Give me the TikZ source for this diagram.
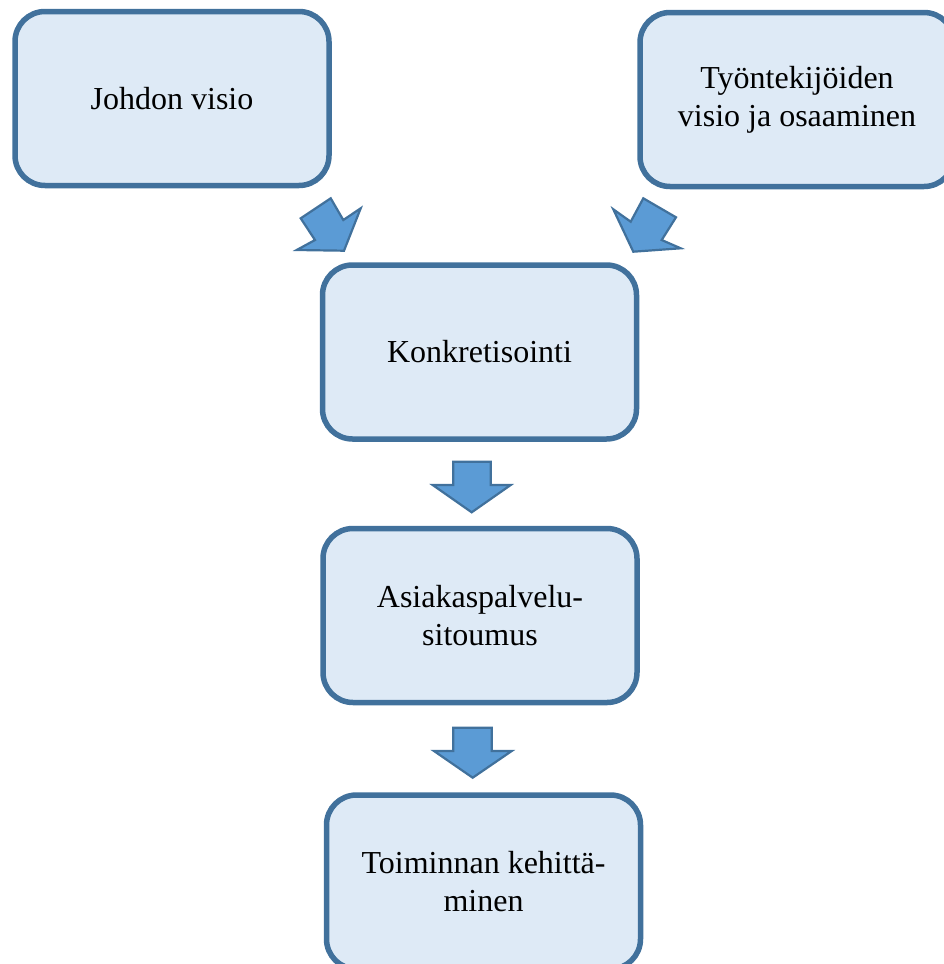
\documentclass[tikz,border=0pt]{standalone}
\usepackage{fontspec}
\setmainfont{Liberation Serif}
\definecolor{boxfill}{HTML}{DEEAF6}
\definecolor{boxline}{HTML}{41719C}
\definecolor{arrowfill}{HTML}{5B9BD5}
\begin{document}
\begin{tikzpicture}[x=1pt,y=-1pt,
  box/.style={draw=boxline, fill=boxfill, line width=5.5pt, rounded corners=30pt,
    minimum width=314pt, minimum height=174pt, inner sep=0pt, align=center,
    font=\fontsize{32}{38}\selectfont},
  blockarrow/.style={draw=boxline, fill=arrowfill, line width=2.2pt, line join=miter}]
\useasboundingbox (0,0) rectangle (944,964);
\begin{scope}
\clip (0,0) rectangle (944,964);
\node[box] (b1) at (172,98.5) {Johdon visio};
\node[box] (b2) at (797,99.5) {Työntekijöiden\\visio ja osaaminen};
\node[box] (b3) at (479.5,352) {Konkretisointi};
\node[box] (b4) at (480,615.5) {Asiakaspalvelu-\\sitoumus};
\node[box] (b5) at (483.5,882) {Toiminnan kehittä-\\minen};
% diagonal arrows
\draw[blockarrow] (330.7,198.3) -- (343.3,220) -- (360.7,208.3) -- (344,250.7)
  -- (296.7,250) -- (315,240) -- (300.7,218.3) -- cycle;
\draw[blockarrow] (643.3,198.3) -- (630.7,221.7) -- (613.3,209.3) -- (633.3,251.7)
  -- (680.7,248.3) -- (661.7,240) -- (676,217.3) -- cycle;
% down arrows
\draw[blockarrow] (453.3,461.7) -- (490.7,461.7) -- (490.7,485) -- (510.7,485)
  -- (471.7,512.3) -- (432.7,485) -- (453.3,485) -- cycle;
\draw[blockarrow] (453.3,727.7) -- (491.7,727.7) -- (491.7,751) -- (511.7,751)
  -- (472.7,777.7) -- (434,751) -- (453.3,751) -- cycle;
\end{scope}
\end{tikzpicture}
\end{document}
